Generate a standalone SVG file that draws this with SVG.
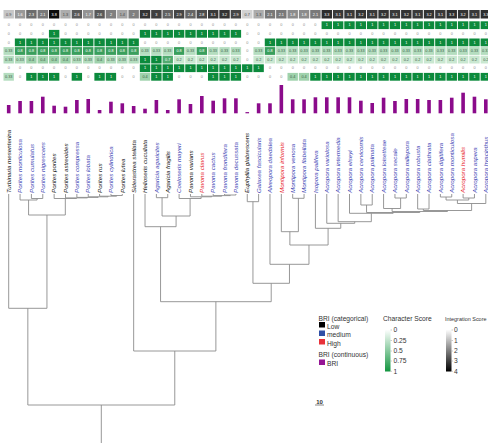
<svg xmlns="http://www.w3.org/2000/svg" width="488" height="443" viewBox="0 0 488 443">
<style>
text{font-family:"Liberation Sans",Arial,sans-serif}
.k{width:10.4px;height:7.8px}
.kt{width:10.4px;height:8.5px}
.g1{fill:#0c8a3c}.g8{fill:#3a9f5d}.g7{fill:#52ab70}.g4{fill:#9fd2ac}.g3{fill:#b4ddbf}.g2{fill:#cae8d1}
.z{font-size:3.8px;fill:#8c8c8c;text-anchor:middle}
.w{font-size:3.8px;fill:#fff;text-anchor:middle}
.q{font-size:3.8px;fill:#444;text-anchor:middle}
.d{font-size:3.8px;fill:#3d5f48;text-anchor:middle}
.bar{fill:#8b0b8b}
.tree path{fill:none;stroke:#8c8c8c;stroke-width:0.9}
.lab{font-size:6.2px;font-style:italic}
.bk{fill:#111}.bl{fill:#3c44b4}.rd{fill:#e8262d}
.lg{font-size:6.7px;fill:#333}
.tk{stroke:#999;stroke-width:0.5}
</style>
<defs>
<linearGradient id="gG" x1="0" y1="0" x2="0" y2="1"><stop offset="0" stop-color="#ffffff"/><stop offset="1" stop-color="#12953f"/></linearGradient>
<linearGradient id="gK" x1="0" y1="0" x2="0" y2="1"><stop offset="0" stop-color="#ffffff"/><stop offset="1" stop-color="#000000"/></linearGradient>
</defs>

<g id="heatmap">
<g id="row-integration" transform="translate(0,10)">
<rect class="kt" x="3.5" fill="#c6c6c6"/><rect class="kt" x="14.86" fill="#999"/><rect class="kt" x="26.22" fill="#6c6c6c"/><rect class="kt" x="37.58" fill="#797979"/><rect class="kt" x="48.94" fill="#0d0d0d"/><rect class="kt" x="60.3" fill="#acacac"/><rect class="kt" x="71.66" fill="#595959"/><rect class="kt" x="83.02" fill="#939393"/><rect class="kt" x="94.38" fill="#595959"/><rect class="kt" x="105.74" fill="#808080"/><rect class="kt" x="117.1" fill="#a6a6a6"/><rect class="kt" x="128.46" fill="#808080"/><rect class="kt" x="139.82" fill="#333"/><rect class="kt" x="151.18" fill="#404040"/><rect class="kt" x="162.54" fill="#606060"/><rect class="kt" x="173.9" fill="#464646"/><rect class="kt" x="185.26" fill="#666"/><rect class="kt" x="196.62" fill="#4d4d4d"/><rect class="kt" x="207.98" fill="#393939"/><rect class="kt" x="219.34" fill="#333"/><rect class="kt" x="230.7" fill="#464646"/><rect class="kt" x="242.06" fill="#d2d2d2"/><rect class="kt" x="253.42" fill="#acacac"/><rect class="kt" x="264.78" fill="#797979"/><rect class="kt" x="276.14" fill="#797979"/><rect class="kt" x="287.5" fill="#8c8c8c"/><rect class="kt" x="298.86" fill="#8c8c8c"/><rect class="kt" x="310.22" fill="#797979"/><rect class="kt" x="321.58" fill="#2d2d2d"/><rect class="kt" x="332.94" fill="#393939"/><rect class="kt" x="344.3" fill="#393939"/><rect class="kt" x="355.66" fill="#333"/><rect class="kt" x="367.02" fill="#393939"/><rect class="kt" x="378.38" fill="#333"/><rect class="kt" x="389.74" fill="#393939"/><rect class="kt" x="401.1" fill="#333"/><rect class="kt" x="412.46" fill="#393939"/><rect class="kt" x="423.82" fill="#333"/><rect class="kt" x="435.18" fill="#393939"/><rect class="kt" x="446.54" fill="#2d2d2d"/><rect class="kt" x="457.9" fill="#333"/><rect class="kt" x="469.26" fill="#393939"/><rect class="kt" x="480.62" fill="#2d2d2d"/>
<text class="q" x="8.7" y="5.6">0.9</text><text class="w" x="20.06" y="5.6">1.6</text><text class="w" x="31.42" y="5.6">2.3</text><text class="w" x="42.78" y="5.6">2.1</text><text class="w" x="54.14" y="5.6">3.8</text><text class="q" x="65.5" y="5.6">1.3</text><text class="w" x="76.86" y="5.6">2.6</text><text class="w" x="88.22" y="5.6">1.7</text><text class="w" x="99.58" y="5.6">2.6</text><text class="w" x="110.94" y="5.6">2</text><text class="q" x="122.3" y="5.6">1.4</text><text class="w" x="133.66" y="5.6">2</text><text class="w" x="145.02" y="5.6">3.2</text><text class="w" x="156.38" y="5.6">3</text><text class="w" x="167.74" y="5.6">2.5</text><text class="w" x="179.1" y="5.6">2.9</text><text class="w" x="190.46" y="5.6">2.4</text><text class="w" x="201.82" y="5.6">2.8</text><text class="w" x="213.18" y="5.6">3.1</text><text class="w" x="224.54" y="5.6">3.2</text><text class="w" x="235.9" y="5.6">2.9</text><text class="q" x="247.26" y="5.6">0.7</text><text class="q" x="258.62" y="5.6">1.3</text><text class="w" x="269.98" y="5.6">2.1</text><text class="w" x="281.34" y="5.6">2.1</text><text class="w" x="292.7" y="5.6">1.8</text><text class="w" x="304.06" y="5.6">1.8</text><text class="w" x="315.42" y="5.6">2.1</text><text class="w" x="326.78" y="5.6">3.3</text><text class="w" x="338.14" y="5.6">3.1</text><text class="w" x="349.5" y="5.6">3.1</text><text class="w" x="360.86" y="5.6">3.2</text><text class="w" x="372.22" y="5.6">3.1</text><text class="w" x="383.58" y="5.6">3.2</text><text class="w" x="394.94" y="5.6">3.1</text><text class="w" x="406.3" y="5.6">3.2</text><text class="w" x="417.66" y="5.6">3.1</text><text class="w" x="429.02" y="5.6">3.2</text><text class="w" x="440.38" y="5.6">3.1</text><text class="w" x="451.74" y="5.6">3.3</text><text class="w" x="463.1" y="5.6">3.2</text><text class="w" x="474.46" y="5.6">3.1</text><text class="w" x="485.82" y="5.6">3.3</text>
</g>

<g id="row-1" transform="translate(0,21.3)">
<rect class="k g1" x="321.58"/><rect class="k g1" x="332.94"/><rect class="k g1" x="344.3"/><rect class="k g1" x="355.66"/><rect class="k g1" x="367.02"/><rect class="k g1" x="378.38"/><rect class="k g1" x="389.74"/><rect class="k g1" x="401.1"/><rect class="k g1" x="412.46"/><rect class="k g1" x="423.82"/><rect class="k g1" x="435.18"/><rect class="k g1" x="446.54"/><rect class="k g1" x="457.9"/><rect class="k g1" x="469.26"/><rect class="k g1" x="480.62"/>
<text class="z" x="8.7" y="5.2">0</text><text class="z" x="20.06" y="5.2">0</text><text class="z" x="31.42" y="5.2">0</text><text class="z" x="42.78" y="5.2">0</text><text class="z" x="54.14" y="5.2">0</text><text class="z" x="65.5" y="5.2">0</text><text class="z" x="76.86" y="5.2">0</text><text class="z" x="88.22" y="5.2">0</text><text class="z" x="99.58" y="5.2">0</text><text class="z" x="110.94" y="5.2">0</text><text class="z" x="122.3" y="5.2">0</text><text class="z" x="133.66" y="5.2">0</text><text class="z" x="145.02" y="5.2">0</text><text class="z" x="156.38" y="5.2">0</text><text class="z" x="167.74" y="5.2">0</text><text class="z" x="179.1" y="5.2">0</text><text class="z" x="190.46" y="5.2">0</text><text class="z" x="201.82" y="5.2">0</text><text class="z" x="213.18" y="5.2">0</text><text class="z" x="224.54" y="5.2">0</text><text class="z" x="235.9" y="5.2">0</text><text class="z" x="247.26" y="5.2">0</text><text class="z" x="258.62" y="5.2">0</text><text class="z" x="269.98" y="5.2">0</text><text class="z" x="281.34" y="5.2">0</text><text class="z" x="292.7" y="5.2">0</text><text class="z" x="304.06" y="5.2">0</text><text class="z" x="315.42" y="5.2">0</text>
<text class="w" x="326.78" y="5.2">1</text><text class="w" x="338.14" y="5.2">1</text><text class="w" x="349.5" y="5.2">1</text><text class="w" x="360.86" y="5.2">1</text><text class="w" x="372.22" y="5.2">1</text><text class="w" x="383.58" y="5.2">1</text><text class="w" x="394.94" y="5.2">1</text><text class="w" x="406.3" y="5.2">1</text><text class="w" x="417.66" y="5.2">1</text><text class="w" x="429.02" y="5.2">1</text><text class="w" x="440.38" y="5.2">1</text><text class="w" x="451.74" y="5.2">1</text><text class="w" x="463.1" y="5.2">1</text><text class="w" x="474.46" y="5.2">1</text><text class="w" x="485.82" y="5.2">1</text>
</g>

<g id="row-2" transform="translate(0,29.9)">
<rect class="k g1" x="48.94"/><rect class="k g1" x="139.82"/><rect class="k g1" x="151.18"/><rect class="k g1" x="162.54"/><rect class="k g1" x="173.9"/><rect class="k g1" x="185.26"/><rect class="k g1" x="196.62"/><rect class="k g1" x="207.98"/><rect class="k g1" x="219.34"/><rect class="k g1" x="230.7"/>
<text class="z" x="8.7" y="5.2">0</text><text class="z" x="20.06" y="5.2">0</text><text class="z" x="31.42" y="5.2">0</text><text class="z" x="42.78" y="5.2">0</text><text class="w" x="54.14" y="5.2">1</text><text class="z" x="65.5" y="5.2">0</text><text class="z" x="76.86" y="5.2">0</text><text class="z" x="88.22" y="5.2">0</text><text class="z" x="99.58" y="5.2">0</text><text class="z" x="110.94" y="5.2">0</text><text class="z" x="122.3" y="5.2">0</text><text class="z" x="133.66" y="5.2">0</text><text class="w" x="145.02" y="5.2">1</text><text class="w" x="156.38" y="5.2">1</text><text class="w" x="167.74" y="5.2">1</text><text class="w" x="179.1" y="5.2">1</text><text class="w" x="190.46" y="5.2">1</text><text class="w" x="201.82" y="5.2">1</text><text class="w" x="213.18" y="5.2">1</text><text class="w" x="224.54" y="5.2">1</text><text class="w" x="235.9" y="5.2">1</text><text class="z" x="247.26" y="5.2">0</text><text class="z" x="258.62" y="5.2">0</text><text class="z" x="269.98" y="5.2">0</text><text class="z" x="281.34" y="5.2">0</text><text class="z" x="292.7" y="5.2">0</text><text class="z" x="304.06" y="5.2">0</text><text class="z" x="315.42" y="5.2">0</text><text class="z" x="326.78" y="5.2">0</text><text class="z" x="338.14" y="5.2">0</text><text class="z" x="349.5" y="5.2">0</text><text class="z" x="360.86" y="5.2">0</text><text class="z" x="372.22" y="5.2">0</text><text class="z" x="383.58" y="5.2">0</text><text class="z" x="394.94" y="5.2">0</text><text class="z" x="406.3" y="5.2">0</text><text class="z" x="417.66" y="5.2">0</text><text class="z" x="429.02" y="5.2">0</text><text class="z" x="440.38" y="5.2">0</text><text class="z" x="451.74" y="5.2">0</text><text class="z" x="463.1" y="5.2">0</text><text class="z" x="474.46" y="5.2">0</text><text class="z" x="485.82" y="5.2">0</text>
</g>

<g id="row-3" transform="translate(0,38.5)">
<rect class="k g1" x="14.86"/><rect class="k g1" x="26.22"/><rect class="k g1" x="37.58"/><rect class="k g1" x="48.94"/><rect class="k g1" x="60.3"/><rect class="k g1" x="71.66"/><rect class="k g1" x="83.02"/><rect class="k g1" x="94.38"/><rect class="k g1" x="105.74"/><rect class="k g1" x="117.1"/><rect class="k g1" x="128.46"/>
<rect class="k g1" x="264.78"/><rect class="k g1" x="276.14"/><rect class="k g1" x="287.5"/><rect class="k g1" x="298.86"/><rect class="k g1" x="310.22"/><rect class="k g1" x="321.58"/><rect class="k g1" x="332.94"/><rect class="k g1" x="344.3"/><rect class="k g1" x="355.66"/><rect class="k g1" x="367.02"/><rect class="k g1" x="378.38"/><rect class="k g1" x="389.74"/><rect class="k g1" x="401.1"/><rect class="k g1" x="412.46"/><rect class="k g1" x="423.82"/><rect class="k g1" x="435.18"/><rect class="k g1" x="446.54"/><rect class="k g1" x="457.9"/><rect class="k g1" x="469.26"/><rect class="k g1" x="480.62"/>
<text class="z" x="8.7" y="5.2">0</text><text class="w" x="20.06" y="5.2">1</text><text class="w" x="31.42" y="5.2">1</text><text class="w" x="42.78" y="5.2">1</text><text class="w" x="54.14" y="5.2">1</text><text class="w" x="65.5" y="5.2">1</text><text class="w" x="76.86" y="5.2">1</text><text class="w" x="88.22" y="5.2">1</text><text class="w" x="99.58" y="5.2">1</text><text class="w" x="110.94" y="5.2">1</text><text class="w" x="122.3" y="5.2">1</text><text class="w" x="133.66" y="5.2">1</text><text class="z" x="145.02" y="5.2">0</text><text class="z" x="156.38" y="5.2">0</text><text class="z" x="167.74" y="5.2">0</text><text class="z" x="179.1" y="5.2">0</text><text class="z" x="190.46" y="5.2">0</text><text class="z" x="201.82" y="5.2">0</text><text class="z" x="213.18" y="5.2">0</text><text class="z" x="224.54" y="5.2">0</text><text class="z" x="235.9" y="5.2">0</text><text class="z" x="247.26" y="5.2">0</text><text class="z" x="258.62" y="5.2">0</text><text class="w" x="269.98" y="5.2">1</text><text class="w" x="281.34" y="5.2">1</text><text class="w" x="292.7" y="5.2">1</text><text class="w" x="304.06" y="5.2">1</text><text class="w" x="315.42" y="5.2">1</text><text class="w" x="326.78" y="5.2">1</text><text class="w" x="338.14" y="5.2">1</text><text class="w" x="349.5" y="5.2">1</text><text class="w" x="360.86" y="5.2">1</text><text class="w" x="372.22" y="5.2">1</text><text class="w" x="383.58" y="5.2">1</text><text class="w" x="394.94" y="5.2">1</text><text class="w" x="406.3" y="5.2">1</text><text class="w" x="417.66" y="5.2">1</text><text class="w" x="429.02" y="5.2">1</text><text class="w" x="440.38" y="5.2">1</text><text class="w" x="451.74" y="5.2">1</text><text class="w" x="463.1" y="5.2">1</text><text class="w" x="474.46" y="5.2">1</text><text class="w" x="485.82" y="5.2">1</text>
</g>

<g id="row-4" transform="translate(0,47.1)">
<rect class="k g3" x="3.5"/><rect class="k g8" x="14.86"/><rect class="k g8" x="26.22"/><rect class="k g8" x="37.58"/><rect class="k g8" x="48.94"/><rect class="k g8" x="60.3"/><rect class="k g8" x="71.66"/><rect class="k g8" x="83.02"/><rect class="k g8" x="94.38"/><rect class="k g8" x="105.74"/><rect class="k g8" x="117.1"/><rect class="k g8" x="128.46"/><rect class="k g3" x="139.82"/><rect class="k g3" x="151.18"/><rect class="k g3" x="162.54"/><rect class="k g8" x="173.9"/><rect class="k g3" x="185.26"/><rect class="k g8" x="196.62"/><rect class="k g3" x="207.98"/><rect class="k g3" x="219.34"/><rect class="k g3" x="230.7"/><rect class="k g3" x="253.42"/><rect class="k g8" x="264.78"/><rect class="k g3" x="276.14"/><rect class="k g3" x="287.5"/><rect class="k g3" x="298.86"/><rect class="k g3" x="310.22"/><rect class="k g3" x="321.58"/><rect class="k g3" x="332.94"/><rect class="k g3" x="344.3"/><rect class="k g3" x="355.66"/><rect class="k g3" x="367.02"/><rect class="k g3" x="378.38"/><rect class="k g3" x="389.74"/><rect class="k g3" x="401.1"/><rect class="k g3" x="412.46"/><rect class="k g3" x="423.82"/><rect class="k g3" x="435.18"/><rect class="k g3" x="446.54"/><rect class="k g3" x="457.9"/><rect class="k g3" x="469.26"/><rect class="k g3" x="480.62"/>
<text class="d" x="8.7" y="5.2">0.33</text><text class="w" x="20.06" y="5.2">0.8</text><text class="w" x="31.42" y="5.2">0.8</text><text class="w" x="42.78" y="5.2">0.8</text><text class="w" x="54.14" y="5.2">0.8</text><text class="w" x="65.5" y="5.2">0.8</text><text class="w" x="76.86" y="5.2">0.8</text><text class="w" x="88.22" y="5.2">0.8</text><text class="w" x="99.58" y="5.2">0.8</text><text class="w" x="110.94" y="5.2">0.8</text><text class="w" x="122.3" y="5.2">0.8</text><text class="w" x="133.66" y="5.2">0.8</text><text class="d" x="145.02" y="5.2">0.33</text><text class="d" x="156.38" y="5.2">0.33</text><text class="d" x="167.74" y="5.2">0.33</text><text class="w" x="179.1" y="5.2">0.8</text><text class="d" x="190.46" y="5.2">0.33</text><text class="w" x="201.82" y="5.2">0.8</text><text class="d" x="213.18" y="5.2">0.33</text><text class="d" x="224.54" y="5.2">0.33</text><text class="d" x="235.9" y="5.2">0.33</text><text class="z" x="247.26" y="5.2">0</text><text class="d" x="258.62" y="5.2">0.33</text><text class="w" x="269.98" y="5.2">0.8</text><text class="d" x="281.34" y="5.2">0.33</text><text class="d" x="292.7" y="5.2">0.33</text><text class="d" x="304.06" y="5.2">0.33</text><text class="d" x="315.42" y="5.2">0.33</text><text class="d" x="326.78" y="5.2">0.33</text><text class="d" x="338.14" y="5.2">0.33</text><text class="d" x="349.5" y="5.2">0.33</text><text class="d" x="360.86" y="5.2">0.33</text><text class="d" x="372.22" y="5.2">0.33</text><text class="d" x="383.58" y="5.2">0.33</text><text class="d" x="394.94" y="5.2">0.33</text><text class="d" x="406.3" y="5.2">0.33</text><text class="d" x="417.66" y="5.2">0.33</text><text class="d" x="429.02" y="5.2">0.33</text><text class="d" x="440.38" y="5.2">0.33</text><text class="d" x="451.74" y="5.2">0.33</text><text class="d" x="463.1" y="5.2">0.33</text><text class="d" x="474.46" y="5.2">0.33</text><text class="d" x="485.82" y="5.2">0.33</text>
</g>

<g id="row-5" transform="translate(0,55.7)">
<rect class="k g3" x="3.5"/><rect class="k g3" x="14.86"/><rect class="k g4" x="26.22"/><rect class="k g4" x="37.58"/><rect class="k g4" x="48.94"/><rect class="k g4" x="60.3"/><rect class="k g3" x="71.66"/><rect class="k g3" x="83.02"/><rect class="k g4" x="94.38"/><rect class="k g3" x="105.74"/><rect class="k g3" x="117.1"/><rect class="k g3" x="128.46"/><rect class="k g1" x="139.82"/><rect class="k g1" x="151.18"/><rect class="k g7" x="162.54"/><rect class="k g2" x="173.9"/><rect class="k g2" x="185.26"/><rect class="k g2" x="196.62"/><rect class="k g2" x="207.98"/><rect class="k g2" x="219.34"/><rect class="k g2" x="230.7"/><rect class="k g2" x="253.42"/><rect class="k g2" x="264.78"/><rect class="k g2" x="276.14"/><rect class="k g2" x="287.5"/><rect class="k g2" x="298.86"/><rect class="k g2" x="310.22"/><rect class="k g2" x="321.58"/><rect class="k g2" x="332.94"/><rect class="k g2" x="344.3"/><rect class="k g2" x="355.66"/><rect class="k g2" x="367.02"/><rect class="k g2" x="378.38"/><rect class="k g2" x="389.74"/><rect class="k g2" x="401.1"/><rect class="k g2" x="412.46"/><rect class="k g2" x="423.82"/><rect class="k g2" x="435.18"/><rect class="k g2" x="446.54"/><rect class="k g2" x="457.9"/><rect class="k g2" x="469.26"/><rect class="k g2" x="480.62"/>
<text class="d" x="8.7" y="5.2">0.33</text><text class="d" x="20.06" y="5.2">0.33</text><text class="d" x="31.42" y="5.2">0.4</text><text class="d" x="42.78" y="5.2">0.4</text><text class="d" x="54.14" y="5.2">0.4</text><text class="d" x="65.5" y="5.2">0.4</text><text class="d" x="76.86" y="5.2">0.33</text><text class="d" x="88.22" y="5.2">0.33</text><text class="d" x="99.58" y="5.2">0.4</text><text class="d" x="110.94" y="5.2">0.33</text><text class="d" x="122.3" y="5.2">0.33</text><text class="d" x="133.66" y="5.2">0.33</text><text class="w" x="145.02" y="5.2">1</text><text class="w" x="156.38" y="5.2">1</text><text class="w" x="167.74" y="5.2">0.7</text><text class="d" x="179.1" y="5.2">0.2</text><text class="d" x="190.46" y="5.2">0.2</text><text class="d" x="201.82" y="5.2">0.2</text><text class="d" x="213.18" y="5.2">0.2</text><text class="d" x="224.54" y="5.2">0.2</text><text class="d" x="235.9" y="5.2">0.2</text><text class="z" x="247.26" y="5.2">0</text><text class="d" x="258.62" y="5.2">0.2</text><text class="d" x="269.98" y="5.2">0.2</text><text class="d" x="281.34" y="5.2">0.2</text><text class="d" x="292.7" y="5.2">0.2</text><text class="d" x="304.06" y="5.2">0.2</text><text class="d" x="315.42" y="5.2">0.2</text><text class="d" x="326.78" y="5.2">0.2</text><text class="d" x="338.14" y="5.2">0.2</text><text class="d" x="349.5" y="5.2">0.2</text><text class="d" x="360.86" y="5.2">0.2</text><text class="d" x="372.22" y="5.2">0.2</text><text class="d" x="383.58" y="5.2">0.2</text><text class="d" x="394.94" y="5.2">0.2</text><text class="d" x="406.3" y="5.2">0.2</text><text class="d" x="417.66" y="5.2">0.2</text><text class="d" x="429.02" y="5.2">0.2</text><text class="d" x="440.38" y="5.2">0.2</text><text class="d" x="451.74" y="5.2">0.2</text><text class="d" x="463.1" y="5.2">0.2</text><text class="d" x="474.46" y="5.2">0.2</text><text class="d" x="485.82" y="5.2">0.2</text>
</g>

<g id="row-6" transform="translate(0,64.3)">
<rect class="k g1" x="139.82"/><rect class="k g1" x="151.18"/><rect class="k g1" x="162.54"/><rect class="k g1" x="173.9"/><rect class="k g1" x="185.26"/><rect class="k g1" x="196.62"/><rect class="k g1" x="207.98"/><rect class="k g1" x="219.34"/><rect class="k g1" x="230.7"/><rect class="k g1" x="242.06"/><rect class="k g1" x="253.42"/>
<text class="z" x="8.7" y="5.2">0</text><text class="z" x="20.06" y="5.2">0</text><text class="z" x="31.42" y="5.2">0</text><text class="z" x="42.78" y="5.2">0</text><text class="z" x="54.14" y="5.2">0</text><text class="z" x="65.5" y="5.2">0</text><text class="z" x="76.86" y="5.2">0</text><text class="z" x="88.22" y="5.2">0</text><text class="z" x="99.58" y="5.2">0</text><text class="z" x="110.94" y="5.2">0</text><text class="z" x="122.3" y="5.2">0</text><text class="z" x="133.66" y="5.2">0</text><text class="w" x="145.02" y="5.2">1</text><text class="w" x="156.38" y="5.2">1</text><text class="w" x="167.74" y="5.2">1</text><text class="w" x="179.1" y="5.2">1</text><text class="w" x="190.46" y="5.2">1</text><text class="w" x="201.82" y="5.2">1</text><text class="w" x="213.18" y="5.2">1</text><text class="w" x="224.54" y="5.2">1</text><text class="w" x="235.9" y="5.2">1</text><text class="w" x="247.26" y="5.2">1</text><text class="w" x="258.62" y="5.2">1</text><text class="z" x="269.98" y="5.2">0</text><text class="z" x="281.34" y="5.2">0</text><text class="z" x="292.7" y="5.2">0</text><text class="z" x="304.06" y="5.2">0</text><text class="z" x="315.42" y="5.2">0</text><text class="z" x="326.78" y="5.2">0</text><text class="z" x="338.14" y="5.2">0</text><text class="z" x="349.5" y="5.2">0</text><text class="z" x="360.86" y="5.2">0</text><text class="z" x="372.22" y="5.2">0</text><text class="z" x="383.58" y="5.2">0</text><text class="z" x="394.94" y="5.2">0</text><text class="z" x="406.3" y="5.2">0</text><text class="z" x="417.66" y="5.2">0</text><text class="z" x="429.02" y="5.2">0</text><text class="z" x="440.38" y="5.2">0</text><text class="z" x="451.74" y="5.2">0</text><text class="z" x="463.1" y="5.2">0</text><text class="z" x="474.46" y="5.2">0</text><text class="z" x="485.82" y="5.2">0</text>
</g>

<g id="row-7" transform="translate(0,72.9)">
<rect class="k g3" x="3.5"/><rect class="k g1" x="26.22"/><rect class="k g1" x="37.58"/><rect class="k g1" x="48.94"/><rect class="k g1" x="71.66"/><rect class="k g1" x="94.38"/><rect class="k g1" x="105.74"/><rect class="k g4" x="139.82"/><rect class="k g1" x="151.18"/><rect class="k g1" x="162.54"/><rect class="k g1" x="207.98"/><rect class="k g1" x="219.34"/><rect class="k g1" x="230.7"/><rect class="k g4" x="287.5"/><rect class="k g4" x="298.86"/><rect class="k g1" x="310.22"/><rect class="k g1" x="321.58"/><rect class="k g1" x="332.94"/><rect class="k g1" x="344.3"/><rect class="k g1" x="355.66"/><rect class="k g1" x="367.02"/><rect class="k g1" x="378.38"/><rect class="k g1" x="389.74"/><rect class="k g1" x="401.1"/><rect class="k g1" x="412.46"/><rect class="k g1" x="423.82"/><rect class="k g1" x="435.18"/><rect class="k g1" x="446.54"/><rect class="k g1" x="457.9"/><rect class="k g1" x="469.26"/><rect class="k g1" x="480.62"/>
<text class="d" x="8.7" y="5.2">0.33</text><text class="z" x="20.06" y="5.2">0</text><text class="w" x="31.42" y="5.2">1</text><text class="w" x="42.78" y="5.2">1</text><text class="w" x="54.14" y="5.2">1</text><text class="z" x="65.5" y="5.2">0</text><text class="w" x="76.86" y="5.2">1</text><text class="z" x="88.22" y="5.2">0</text><text class="w" x="99.58" y="5.2">1</text><text class="w" x="110.94" y="5.2">1</text><text class="z" x="122.3" y="5.2">0</text><text class="z" x="133.66" y="5.2">0</text><text class="d" x="145.02" y="5.2">0.4</text><text class="w" x="156.38" y="5.2">1</text><text class="w" x="167.74" y="5.2">1</text><text class="z" x="179.1" y="5.2">0</text><text class="z" x="190.46" y="5.2">0</text><text class="z" x="201.82" y="5.2">0</text><text class="w" x="213.18" y="5.2">1</text><text class="w" x="224.54" y="5.2">1</text><text class="w" x="235.9" y="5.2">1</text><text class="z" x="247.26" y="5.2">0</text><text class="z" x="258.62" y="5.2">0</text><text class="z" x="269.98" y="5.2">0</text><text class="z" x="281.34" y="5.2">0</text><text class="d" x="292.7" y="5.2">0.4</text><text class="d" x="304.06" y="5.2">0.4</text><text class="w" x="315.42" y="5.2">1</text><text class="w" x="326.78" y="5.2">1</text><text class="w" x="338.14" y="5.2">1</text><text class="w" x="349.5" y="5.2">1</text><text class="w" x="360.86" y="5.2">1</text><text class="w" x="372.22" y="5.2">1</text><text class="w" x="383.58" y="5.2">1</text><text class="w" x="394.94" y="5.2">1</text><text class="w" x="406.3" y="5.2">1</text><text class="w" x="417.66" y="5.2">1</text><text class="w" x="429.02" y="5.2">1</text><text class="w" x="440.38" y="5.2">1</text><text class="w" x="451.74" y="5.2">1</text><text class="w" x="463.1" y="5.2">1</text><text class="w" x="474.46" y="5.2">1</text><text class="w" x="485.82" y="5.2">1</text>
</g>
</g>

<g id="bri-bars" class="bar">
<rect x="6.9" y="105" width="3.6" height="8.3"/><rect x="18.26" y="101" width="3.6" height="12.3"/><rect x="29.62" y="101" width="3.6" height="12.3"/><rect x="40.98" y="96.7" width="3.6" height="16.6"/><rect x="52.34" y="105.7" width="3.6" height="7.6"/><rect x="63.7" y="106.7" width="3.6" height="6.6"/><rect x="75.06" y="100" width="3.6" height="13.3"/><rect x="86.42" y="99" width="3.6" height="14.3"/><rect x="97.78" y="110" width="3.6" height="3.3"/><rect x="109.14" y="101.7" width="3.6" height="11.6"/><rect x="120.5" y="103.3" width="3.6" height="10"/><rect x="131.86" y="106" width="3.6" height="7.3"/><rect x="143.22" y="108.7" width="3.6" height="4.6"/><rect x="154.58" y="100" width="3.6" height="13.3"/><rect x="165.94" y="110" width="3.6" height="3.3"/><rect x="177.3" y="99.3" width="3.6" height="14"/><rect x="188.66" y="104" width="3.6" height="9.3"/><rect x="200.02" y="96" width="3.6" height="17.3"/><rect x="211.38" y="100.7" width="3.6" height="12.6"/><rect x="222.74" y="98.3" width="3.6" height="15"/><rect x="234.1" y="98.3" width="3.6" height="15"/><rect x="245.46" y="112.1" width="3.6" height="1.2"/><rect x="256.82" y="103.3" width="3.6" height="10"/><rect x="268.18" y="103.3" width="3.6" height="10"/><rect x="279.54" y="85" width="3.6" height="28.3"/><rect x="290.9" y="99.3" width="3.6" height="14"/><rect x="302.26" y="99.3" width="3.6" height="14"/><rect x="313.62" y="97.3" width="3.6" height="16"/><rect x="324.98" y="97.3" width="3.6" height="16"/><rect x="336.34" y="97.3" width="3.6" height="16"/><rect x="347.7" y="97.3" width="3.6" height="16"/><rect x="359.06" y="100.7" width="3.6" height="12.6"/><rect x="370.42" y="103" width="3.6" height="10.3"/><rect x="381.78" y="97.7" width="3.6" height="15.6"/><rect x="393.14" y="101" width="3.6" height="12.3"/><rect x="404.5" y="99" width="3.6" height="14.3"/><rect x="415.86" y="99" width="3.6" height="14.3"/><rect x="427.22" y="100" width="3.6" height="13.3"/><rect x="438.58" y="100" width="3.6" height="13.3"/><rect x="449.94" y="97.7" width="3.6" height="15.6"/><rect x="461.3" y="92.7" width="3.6" height="20.6"/><rect x="472.66" y="96.7" width="3.6" height="16.6"/><rect x="484.02" y="99.3" width="3.6" height="14"/>
</g>

<g id="leaves" class="lab">
<g id="leaf-0"><text class="bk" transform="translate(10.9,193) rotate(-90)">Turbinaria mesenterina</text></g>
<g id="leaf-1"><text class="bl" transform="translate(22.26,193) rotate(-90)">Porites monticulosa</text></g>
<g id="leaf-2"><text class="bl" transform="translate(33.62,193) rotate(-90)">Porites cumulatus</text></g>
<g id="leaf-3"><text class="bl" transform="translate(44.98,193) rotate(-90)">Porites nigrescens</text></g>
<g id="leaf-4"><text class="bk" transform="translate(56.34,193) rotate(-90)">Porites porites</text></g>
<g id="leaf-5"><text class="bk" transform="translate(67.7,193) rotate(-90)">Porites astreoides</text></g>
<g id="leaf-6"><text class="bl" transform="translate(79.06,193) rotate(-90)">Porites compressa</text></g>
<g id="leaf-7"><text class="bl" transform="translate(90.42,193) rotate(-90)">Porites lobata</text></g>
<g id="leaf-8"><text class="bk" transform="translate(101.78,193) rotate(-90)">Porites rus</text></g>
<g id="leaf-9"><text class="bl" transform="translate(113.14,193) rotate(-90)">Porites cylindrica</text></g>
<g id="leaf-10"><text class="bk" transform="translate(124.5,193) rotate(-90)">Porites lutea</text></g>
<g id="leaf-11"><text class="bk" transform="translate(135.86,193) rotate(-90)">Siderastrea stellata</text></g>
<g id="leaf-12"><text class="bk" transform="translate(147.22,193) rotate(-90)">Helioseris cucullata</text></g>
<g id="leaf-13"><text class="bl" transform="translate(158.58,193) rotate(-90)">Agaricia agaricites</text></g>
<g id="leaf-14"><text class="bk" transform="translate(169.94,193) rotate(-90)">Agaricia fragilis</text></g>
<g id="leaf-15"><text class="bl" transform="translate(181.3,193) rotate(-90)">Coeloseris mayeri</text></g>
<g id="leaf-16"><text class="bk" transform="translate(192.66,193) rotate(-90)">Pavona varians</text></g>
<g id="leaf-17"><text class="rd" transform="translate(204.02,193) rotate(-90)">Pavona clavus</text></g>
<g id="leaf-18"><text class="bl" transform="translate(215.38,193) rotate(-90)">Pavona cactus</text></g>
<g id="leaf-19"><text class="bl" transform="translate(226.74,193) rotate(-90)">Pavona frondifera</text></g>
<g id="leaf-20"><text class="bl" transform="translate(238.1,193) rotate(-90)">Pavona decussata</text></g>
<g id="leaf-21"><text class="bk" transform="translate(249.46,193) rotate(-90)">Euphyllia glabrescens</text></g>
<g id="leaf-22"><text class="bl" transform="translate(260.82,193) rotate(-90)">Galaxea fascicularis</text></g>
<g id="leaf-23"><text class="bl" transform="translate(272.18,193) rotate(-90)">Alveopora daedalea</text></g>
<g id="leaf-24"><text class="rd" transform="translate(283.54,193) rotate(-90)">Montipora informis</text></g>
<g id="leaf-25"><text class="bl" transform="translate(294.9,193) rotate(-90)">Montipora venosa</text></g>
<g id="leaf-26"><text class="bl" transform="translate(306.26,193) rotate(-90)">Montipora flabellata</text></g>
<g id="leaf-27"><text class="bl" transform="translate(317.62,193) rotate(-90)">Isopora palifera</text></g>
<g id="leaf-28"><text class="bl" transform="translate(328.98,193) rotate(-90)">Acropora variolosa</text></g>
<g id="leaf-29"><text class="bl" transform="translate(340.34,193) rotate(-90)">Acropora intermedia</text></g>
<g id="leaf-30"><text class="bl" transform="translate(351.7,193) rotate(-90)">Acropora elseyi</text></g>
<g id="leaf-31"><text class="bl" transform="translate(363.06,193) rotate(-90)">Acropora cervicornis</text></g>
<g id="leaf-32"><text class="bl" transform="translate(374.42,193) rotate(-90)">Acropora palmata</text></g>
<g id="leaf-33"><text class="bl" transform="translate(385.78,193) rotate(-90)">Acropora loisetteae</text></g>
<g id="leaf-34"><text class="bl" transform="translate(397.14,193) rotate(-90)">Acropora secale</text></g>
<g id="leaf-35"><text class="bl" transform="translate(408.5,193) rotate(-90)">Acropora millepora</text></g>
<g id="leaf-36"><text class="bl" transform="translate(419.86,193) rotate(-90)">Acropora robusta</text></g>
<g id="leaf-37"><text class="bl" transform="translate(431.22,193) rotate(-90)">Acropora clathrata</text></g>
<g id="leaf-38"><text class="bl" transform="translate(442.58,193) rotate(-90)">Acropora digitifera</text></g>
<g id="leaf-39"><text class="bl" transform="translate(453.94,193) rotate(-90)">Acropora monticulosa</text></g>
<g id="leaf-40"><text class="rd" transform="translate(465.3,193) rotate(-90)">Acropora humilis</text></g>
<g id="leaf-41"><text class="bl" transform="translate(476.66,193) rotate(-90)">Acropora aspera</text></g>
<g id="leaf-42"><text class="bl" transform="translate(488.02,193) rotate(-90)">Acropora hyacinthus</text></g>
</g>

<g id="connectors" class="tree">
<path d="M31.42 194V198.5H42.78V194"/>
<path d="M20.06 194V200H37.1V198.5"/>
<path d="M110.94 194V195.5H122.3V194"/>
<path d="M99.58 194V196.2H116.62V195.5"/>
<path d="M88.22 194V196.8H108.1V196.2"/>
<path d="M76.86 194V197.4H98.16V196.8"/>
<path d="M65.5 194V197.9H87.51V197.4"/>
<path d="M54.14 194V198.5H76.5V197.9"/>
<path d="M28.58 200V215H65.32V198.5"/>
<path d="M8.7 194V308.3H46.95V215"/>
<path d="M156.38 194V197.7H167.74V194"/>
<path d="M224.54 194V195H235.9V194"/>
<path d="M213.18 194V195.6H230.22V195"/>
<path d="M201.82 194V196.2H221.7V195.6"/>
<path d="M190.46 194V196.8H211.76V196.2"/>
<path d="M179.1 194V198.5H201.11V196.8"/>
<path d="M162.06 197.7V216H190.1V198.5"/>
<path d="M145.02 194V226.7H176.08V216"/>
<path d="M247.26 194V201.7H258.62V194"/>
<path d="M292.7 194V198.3H304.06V194"/>
<path d="M281.34 194V231.7H298.38V198.3"/>
<path d="M440.38 194V197H451.74V194"/>
<path d="M463.1 194V198H474.46V194"/>
<path d="M446.06 197V200H468.78V198"/>
<path d="M457.42 200V203.5H485.82V194"/>
<path d="M417.66 194V209H429.02V194"/>
<path d="M423.34 209V210.5H471.62V203.5"/>
<path d="M394.94 194V198H406.3V194"/>
<path d="M383.58 194V208.5H400.62V198"/>
<path d="M392.1 208.5V211.5H447.48V210.5"/>
<path d="M360.86 194V205H372.22V194"/>
<path d="M366.54 205V212.5H419.79V211.5"/>
<path d="M349.5 194V213.3H393.17V212.5"/>
<path d="M338.14 194V221.7H371.33V213.3"/>
<path d="M326.78 194V223.3H354.74V221.7"/>
<path d="M315.42 194V228.3H340.76V223.3"/>
<path d="M289.86 231.7V245H328.09V228.3"/>
<path d="M269.98 194V264.3H308.98V245"/>
<path d="M252.94 201.7V283.3H289.48V264.3"/>
<path d="M160.55 226.7V301.7H271.21V283.3"/>
<path d="M133.66 194V351H215.88V301.7"/>
<path d="M27.83 308.3V405H174.77V351"/>
<path d="M101.3 405V443"/>
</g>

<g id="legend-bri" class="lg">
<text x="318.5" y="320.5">BRI (categorical)</text>
<rect x="319" y="322" width="6" height="5.5" fill="#000"/>
<text x="327" y="328.5">Low</text>
<rect x="319" y="330.5" width="6" height="5.5" fill="#2f4fa6"/>
<text x="327" y="337">medium</text>
<rect x="319" y="339" width="6" height="5.5" fill="#e8323a"/>
<text x="327" y="345.5">High</text>
<text x="318.5" y="356.5">BRI (continuous)</text>
<rect x="319" y="359.5" width="6" height="5.5" fill="#951595"/>
<text x="327" y="366">BRI</text>
</g>

<g id="legend-character" class="lg">
<text x="383" y="320.5">Character Score</text>
<rect x="385" y="329.5" width="5.5" height="42" fill="url(#gG)"/>
<path class="tk" d="M390.5 330h1.5M390.5 340.5h1.5M390.5 351h1.5M390.5 361h1.5M390.5 371.3h1.5"/>
<text x="393.5" y="332.3">0</text>
<text x="393.5" y="342.8">0.25</text>
<text x="393.5" y="353.3">0.5</text>
<text x="393.5" y="363.3">0.75</text>
<text x="393.5" y="373.6">1</text>
</g>

<g id="legend-integration" class="lg">
<text x="445" y="320.5" font-size="5.6" textLength="41.5" lengthAdjust="spacingAndGlyphs">Integration Score</text>
<rect x="446" y="329.5" width="5.5" height="42" fill="url(#gK)"/>
<path class="tk" d="M451.5 330h1.5M451.5 340.5h1.5M451.5 351h1.5M451.5 361h1.5M451.5 371.3h1.5"/>
<text x="454" y="332.3">0</text>
<text x="454" y="342.8">1</text>
<text x="454" y="353.3">2</text>
<text x="454" y="363.3">3</text>
<text x="454" y="373.6">4</text>
</g>

<g id="scale-bar">
<text x="319.5" y="403.5" font-size="6" font-weight="bold" fill="#333" text-anchor="middle">10</text>
<path d="M315 405H324" stroke="#555" stroke-width="0.7"/>
</g>
</svg>
